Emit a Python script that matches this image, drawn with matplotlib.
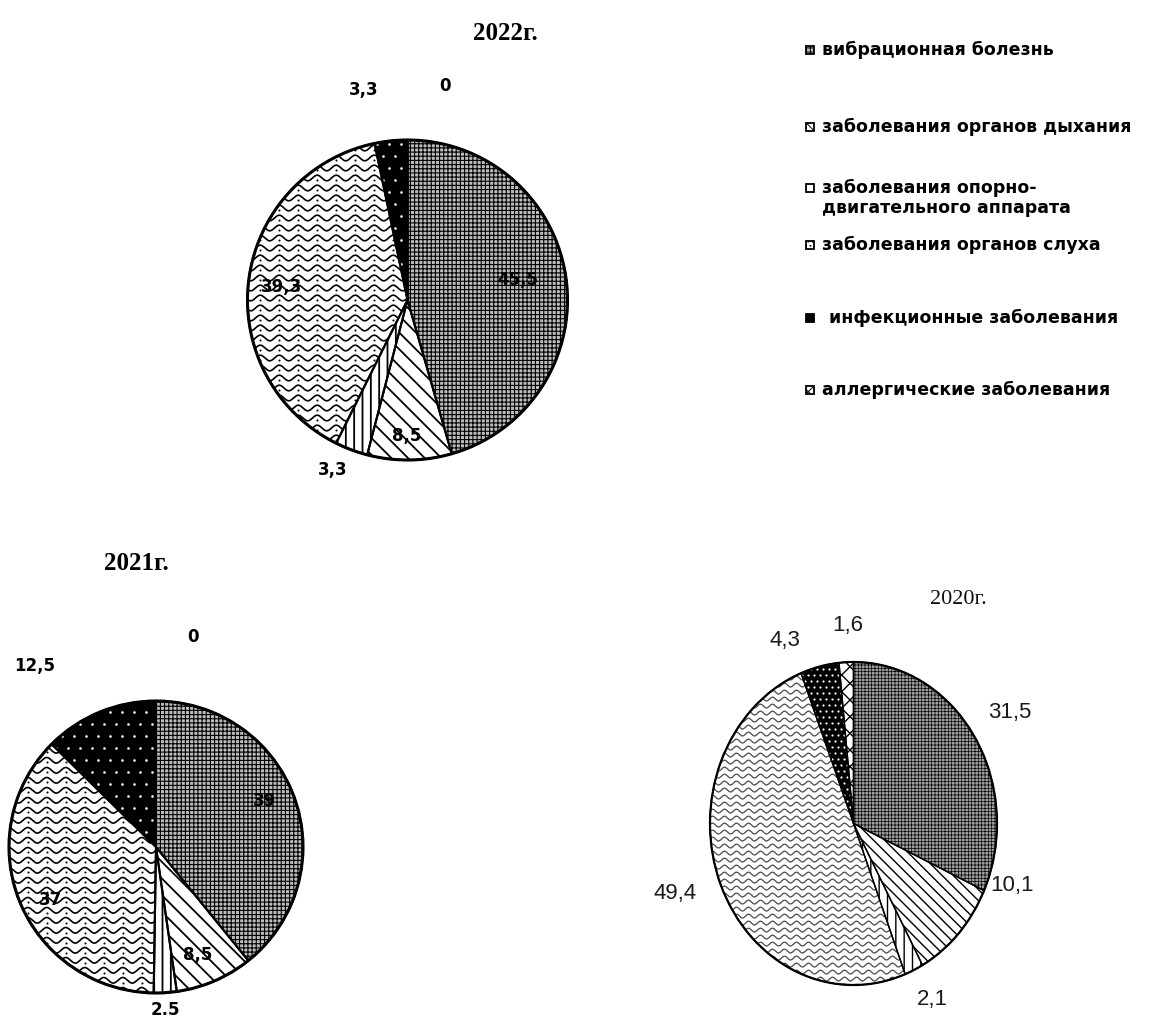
import numpy as np
import matplotlib
matplotlib.use("Agg")
import matplotlib.pyplot as plt
from matplotlib.patches import Rectangle, Wedge

W, H, DPI = 1163, 1021, 100

categories = [
    "вибрационная болезнь",
    "заболевания органов дыхания",
    "заболевания опорно-\nдвигательного аппарата",
    "заболевания органов слуха",
    "инфекционные заболевания",
    "аллергические заболевания",
]

values_2022 = [45.5, 8.5, 3.3, 39.3, 3.3, 0]
values_2021 = [39, 8.5, 2.5, 37, 12.5, 0]
values_2020 = [31.5, 10.1, 2.1, 49.4, 4.3, 1.6]

titles = ["2022г.", "2021г.", "2020г."]

plt.rcParams["hatch.linewidth"] = 0.7

fig = plt.figure(figsize=(W / DPI, H / DPI), dpi=DPI)
fig.patch.set_facecolor("white")


def px(x, y):
    """pixel position (from top-left) -> figure fraction"""
    return x / W, 1 - y / H


def fmt(v, sep=","):
    return f"{v:g}".replace(".", sep)


def pie_axes(cx, cy, rx, ry, pad=1.04):
    return fig.add_axes([(cx - rx * pad) / W, 1 - (cy + ry * pad) / H,
                         2 * rx * pad / W, 2 * ry * pad / H])


def set_hatch(w, pattern, lw):
    w.set_hatch(pattern)
    if hasattr(w, "set_hatch_linewidth"):
        w.set_hatch_linewidth(lw)


def waves(ax, wedge, sx, sy, spacing, wavelength, amp, lw, dots, color="black"):
    xs = np.linspace(-1.05, 1.05, 1500)
    rows = np.arange(-1.05, 1.05, spacing / sy)
    for y0 in rows:
        ys = y0 + (amp / sy) * np.sin(2 * np.pi * xs * sx / wavelength)
        ln, = ax.plot(xs, ys, color=color, lw=lw, zorder=3, solid_capstyle="butt")
        ln.set_clip_path(wedge)
        if dots:
            xd = (np.arange(-80, 80) + 0.25) * wavelength / sx
            xd = xd[(xd > -1.05) & (xd < 1.05)]
            yd = np.full_like(xd, y0 + (amp / sy) - 0.5 * spacing / sy)
            sc = ax.scatter(xd, yd, s=2.2, color=color, lw=0, zorder=3)
            sc.set_clip_path(wedge)


def white_dots(ax, wedge, sx, sy, spacing, size):
    pts = []
    for j, y in enumerate(np.arange(-1.05, 1.05, spacing / sy)):
        off = 0.5 * spacing / sx if j % 2 else 0
        for x in np.arange(-1.05, 1.05, spacing / sx):
            pts.append((x + off, y))
    pts = np.array(pts)
    sc = ax.scatter(pts[:, 0], pts[:, 1], s=size, color="white", lw=0, zorder=3)
    sc.set_clip_path(wedge)


def draw_pie(values, cx, cy, rx, ry, opts):
    ax = pie_axes(cx, cy, rx, ry)
    wedges, _ = ax.pie(values, startangle=90, counterclock=False, radius=1,
                       wedgeprops=dict(linewidth=0, edgecolor="black"))
    ax.set_aspect("auto")
    ax.axis("off")
    sx, sy = rx, ry
    for i, w in enumerate(wedges):
        w.set_zorder(2)
        if i == 0:
            w.set_facecolor(opts["vib_face"])
            w.set_edgecolor(opts.get("vib_hcolor", "black"))
            set_hatch(w, opts["vib_hatch"], opts["vib_hlw"])
        elif i == 1:
            w.set_facecolor("white")
            w.set_edgecolor("black")
            set_hatch(w, opts["resp_hatch"], opts["line_hlw"])
        elif i == 2:
            w.set_facecolor("white")
            w.set_edgecolor("black")
            set_hatch(w, opts["musc_hatch"], opts["line_hlw"])
        elif i == 3:
            w.set_facecolor("white")
            waves(ax, w, sx, sy, opts["wave_sp"], opts["wave_len"],
                  opts["wave_amp"], opts["wave_lw"], opts["wave_dots"],
                  opts.get("wave_color", "black"))
        elif i == 4:
            w.set_facecolor("black")
            white_dots(ax, w, sx, sy, opts["dot_sp"], opts["dot_size"])
        elif i == 5:
            w.set_facecolor("white")
            w.set_edgecolor("black")
            set_hatch(w, "xx", 1.0)
    # outlines drawn on top of the textures
    ax.pie(values, startangle=90, counterclock=False, radius=1,
           wedgeprops=dict(facecolor="none", edgecolor="black",
                           linewidth=opts["edge_lw"], zorder=5))
    ax.set_aspect("auto")
    ax.set_xlim(-1.04, 1.04)
    ax.set_ylim(-1.04, 1.04)
    ax.add_patch(Wedge((0, 0), 1, 0, 360, facecolor="none",
                       edgecolor="black", linewidth=opts["rim_lw"], zorder=6))
    return ax


opts_bw = dict(vib_face="#bcbcbc", vib_hatch="++++", vib_hlw=0.8,
               resp_hatch="\\\\", musc_hatch="||", line_hlw=1.3,
               wave_sp=10.0, wave_len=19, wave_amp=2.8,
               wave_lw=1.2, wave_dots=True, dot_sp=12, dot_size=3.5,
               edge_lw=1.5, rim_lw=2.2)
opts_20 = dict(vib_face="#9e9e9e", vib_hatch="+++++", vib_hlw=0.5,
               resp_hatch="\\\\\\", musc_hatch="||", line_hlw=1.0,
               wave_sp=7.0, wave_len=12, wave_amp=1.9,
               wave_lw=0.9, wave_dots=False, wave_color="#4a4a4a",
               dot_sp=6, dot_size=2.5, edge_lw=1.0, rim_lw=1.6)

draw_pie(values_2022, 407.5, 300, 160, 160, opts_bw)
draw_pie(values_2021, 156, 847, 147, 146, opts_bw)
draw_pie(values_2020, 853.5, 823.5, 143.5, 161.5, opts_20)

# titles
fig.text(*px(505, 33), titles[0], fontsize=18, fontweight="bold",
         family="Liberation Serif", ha="center", va="center")
fig.text(*px(136, 564), titles[1], fontsize=18, fontweight="bold",
         family="Liberation Serif", ha="center", va="center")
fig.text(*px(958, 600), titles[2], fontsize=16,
         family="Liberation Serif", ha="center", va="center", color="#111111")

# value labels (category order), positions in pixels
lab_kw = dict(fontsize=12, fontweight="bold", family="DejaVu Sans",
              ha="center", va="center")
pos_2022 = [(518, 280), (407, 436), (333, 470), (282, 287), (364, 90), (445, 86)]
pos_2021 = [(265, 801), (198, 955), (165, 1010), (50, 900), (35, 666), (193, 637)]
pos_2020 = [(1010, 712), (1012, 885), (932, 999), (675, 893), (785, 640), (848, 625)]

for v, (x, y) in zip(values_2022, pos_2022):
    fig.text(*px(x, y), fmt(v), **lab_kw)
for i, (v, (x, y)) in enumerate(zip(values_2021, pos_2021)):
    fig.text(*px(x, y), fmt(v, "." if i == 2 else ","), **lab_kw)
for v, (x, y) in zip(values_2020, pos_2020):
    fig.text(*px(x, y), fmt(v), fontsize=16, family="Liberation Sans",
             ha="center", va="center", color="#1a1a1a")

# legend
leg_y = [50, 127, 188, 245, 318, 390]
leg_face = ["#bcbcbc", "white", "white", "white", "black", "white"]
leg_hatch = ["++++", "\\\\", None, "....", None, "xx"]
for i, (lab, y) in enumerate(zip(categories, leg_y)):
    x0, y0 = px(806, y + 4)
    fig.patches.append(Rectangle((x0, y0), 8 / W, 8 / H, transform=fig.transFigure,
                                 facecolor=leg_face[i], edgecolor="black",
                                 hatch=leg_hatch[i], linewidth=1.3))
    xt = 829 if i == 4 else 822
    for k, line in enumerate(lab.split("\n")):
        fig.text(*px(xt, y + k * 20), line, fontsize=12.5, fontweight="bold",
                 family="DejaVu Sans", ha="left", va="center")

fig.savefig("out.png", dpi=DPI, facecolor="white")
